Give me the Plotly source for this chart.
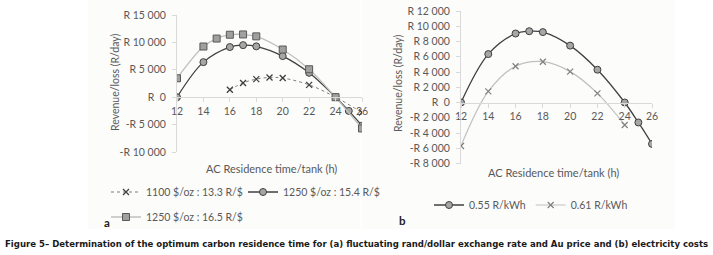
import plotly.graph_objects as go

# ---------------- data ----------------
# Panel (a)
x_a_1100 = [16, 17, 18, 19, 20, 22, 24, 26]
rev_a_1100 = [1350, 2600, 3300, 3600, 3500, 2250, 0, -2800]

x_a_154 = [12, 14, 16, 17, 18, 20, 22, 24, 25, 26]
rev_a_154 = [0, 6400, 9150, 9500, 9280, 7500, 4450, 0, -2500, -5200]

x_a_165 = [12, 14, 15, 16, 17, 18, 20, 22, 24, 26]
rev_a_165 = [3450, 9250, 10700, 11400, 11450, 11100, 8700, 5100, 0, -5700]

names_a = ["1100 $/oz : 13.3 R/$", "1250 $/oz : 15.4 R/$", "1250 $/oz : 16.5 R/$"]

# Panel (b)
x_b_055 = [12, 14, 16, 17, 18, 20, 22, 24, 25, 26]
rev_b_055 = [0, 6350, 9050, 9350, 9230, 7460, 4300, 0, -2620, -5430]

x_b_061 = [12, 14, 16, 18, 20, 22, 24]
rev_b_061 = [-5700, 1450, 4750, 5350, 4050, 1200, -2950]

names_b = ["0.55 R/kWh", "0.61 R/kWh"]

# ticks
x_ticks = [12, 14, 16, 18, 20, 22, 24, 26]
y_ticks_a = [-10000, -5000, 0, 5000, 10000, 15000]
y_text_a = ["-R 10 000", "-R 5 000", "R  0", "R 5 000", "R 10 000", "R 15 000"]
y_ticks_b = [-8000, -6000, -4000, -2000, 0, 2000, 4000, 6000, 8000, 10000, 12000]
y_text_b = ["-R 8 000", "-R 6 000", "-R 4 000", "-R 2 000", "R  0", "R 2 000",
            "R 4 000", "R 6 000", "R 8 000", "R 10 000", "R 12 000"]

x_title = "AC Residence time/tank (h)"
y_title = "Revenue/loss (R/day)"
caption = ("Figure 5\u2013 Determination of the optimum carbon residence time for (a) "
           "fluctuating rand/dollar exchange rate and Au price and (b) electricity costs")

# ---------------- layout helpers ----------------
W, H = 713, 255
FONT = "Lato, Carlito, Calibri, sans-serif"
TXT = "#595959"
AX = "#d9d9d9"

def px_x(p):
    return p / W

def px_y(p):
    return 1 - p / H

ya_range = [-10000, 15000]
yb_range = [-8000, 12000]
ya_dom = [px_y(152), px_y(15)]
yb_dom = [px_y(163.5), px_y(11)]
xa_dom = [px_x(177), px_x(362)]
xb_dom = [px_x(461), px_x(652)]

def zero_pos(dom, rng):
    return dom[0] + (0 - rng[0]) / (rng[1] - rng[0]) * (dom[1] - dom[0])

fig = go.Figure()

# panel (a)
fig.add_trace(go.Scatter(
    x=x_a_1100, y=rev_a_1100, name=names_a[0], mode="lines+markers",
    line=dict(color="#7f7f7f", width=1, dash="dot", shape="spline"),
    marker=dict(symbol="x-thin", size=6, line=dict(color="#404040", width=1.3)),
    xaxis="x", yaxis="y", legend="legend"))
fig.add_trace(go.Scatter(
    x=x_a_154, y=rev_a_154, name=names_a[1], mode="lines+markers",
    line=dict(color="#404040", width=1.3, shape="spline"),
    marker=dict(symbol="circle", size=7, color="#a6a6a6", line=dict(color="#404040", width=1)),
    xaxis="x", yaxis="y", legend="legend"))
fig.add_trace(go.Scatter(
    x=x_a_165, y=rev_a_165, name=names_a[2], mode="lines+markers",
    line=dict(color="#c0c0c0", width=1.3, shape="spline"),
    marker=dict(symbol="square", size=7, color="#a0a0a0", line=dict(color="#595959", width=1)),
    xaxis="x", yaxis="y", legend="legend2"))

# panel (b)
fig.add_trace(go.Scatter(
    x=x_b_055, y=rev_b_055, name=names_b[0], mode="lines+markers",
    line=dict(color="#404040", width=1.3, shape="spline"),
    marker=dict(symbol="circle", size=7, color="#a6a6a6", line=dict(color="#404040", width=1)),
    xaxis="x2", yaxis="y2", legend="legend3"))
fig.add_trace(go.Scatter(
    x=x_b_061, y=rev_b_061, name=names_b[1], mode="lines+markers",
    line=dict(color="#c0c0c0", width=1.2, shape="spline"),
    marker=dict(symbol="x-thin", size=6, line=dict(color="#808080", width=1.2)),
    xaxis="x2", yaxis="y2", legend="legend3"))

tickfont = dict(family=FONT, size=10.5, color=TXT)

def xaxis(dom, pos):
    return dict(domain=dom, range=[12, 26], tickvals=x_ticks, anchor="free",
                position=pos, showline=True, linecolor=AX, linewidth=1,
                ticks="outside", ticklen=4, tickcolor=AX, showgrid=False,
                zeroline=False, tickfont=tickfont, fixedrange=True)

def yaxis(dom, rng, tv, tt, anchor_x):
    return dict(domain=dom, range=rng, tickvals=tv, ticktext=tt, anchor=anchor_x,
                showline=True, linecolor=AX, linewidth=1, ticks="outside",
                ticklen=4, tickcolor=AX, showgrid=False, zeroline=False,
                tickfont=tickfont, ticklabelstandoff=4, fixedrange=True)

legend_common = dict(orientation="h", font=dict(family=FONT, size=10.5, color=TXT),
                     bgcolor="rgba(0,0,0,0)", xanchor="left", yanchor="middle",
                     itemclick=False, itemdoubleclick=False, traceorder="normal")

def ann(text, x, y, size=10.5, color=TXT, angle=0, family=FONT):
    return dict(text=text, x=px_x(x), y=px_y(y), xref="paper", yref="paper",
                xanchor="center", yanchor="middle", textangle=angle,
                showarrow=False, font=dict(family=family, size=size, color=color))

fig.update_layout(
    width=W, height=H, margin=dict(l=0, r=0, t=0, b=0, autoexpand=False),
    paper_bgcolor="white", plot_bgcolor="rgba(0,0,0,0)",
    showlegend=True,
    xaxis=xaxis(xa_dom, zero_pos(ya_dom, ya_range)),
    yaxis=yaxis(ya_dom, ya_range, y_ticks_a, y_text_a, "x"),
    xaxis2=xaxis(xb_dom, zero_pos(yb_dom, yb_range)),
    yaxis2=yaxis(yb_dom, yb_range, y_ticks_b, y_text_b, "x2"),
    legend=dict(x=px_x(106), y=px_y(192), entrywidth=92, **legend_common),
    legend2=dict(x=px_x(106), y=px_y(217), **legend_common),
    legend3=dict(x=px_x(429), y=px_y(205), **legend_common),
    shapes=[
        dict(type="rect", xref="paper", yref="paper", x0=px_x(88), x1=px_x(360),
             y0=px_y(229), y1=1, fillcolor="#fcfcfb", line=dict(width=0), layer="below"),
        dict(type="rect", xref="paper", yref="paper", x0=px_x(362), x1=px_x(675),
             y0=px_y(229), y1=1, fillcolor="#fcfcfb", line=dict(width=0), layer="below"),
    ],
    annotations=[
        ann(y_title, 115, 82, angle=-90),
        ann(y_title, 398, 83, angle=-90),
        ann(x_title, 271, 168, size=11),
        ann(x_title, 553, 172, size=11),
        ann("<b>a</b>", 107, 222, size=11.5, color="#222222"),
        ann("<b>b</b>", 403, 220, size=11.5, color="#222222"),
        ann("<b>" + caption + "</b>", 356, 243, size=9.5, color="#1a1a1a",
            family="DejaVu Sans Condensed, Liberation Sans Narrow, Roboto Condensed, Liberation Sans"),
    ],
)

fig.write_html("out.html", config={"displayModeBar": False},
               post_script="document.body.style.margin='0px';")
